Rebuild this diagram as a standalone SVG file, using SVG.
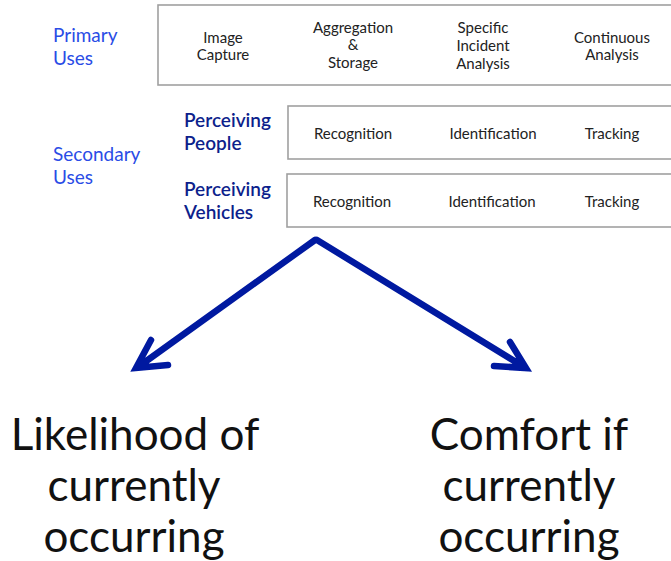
<svg xmlns="http://www.w3.org/2000/svg" width="671" height="561" viewBox="0 0 671 561">
<style>
.box{fill:#fff;stroke:#a0a0a0;stroke-width:1.6}
.cell{font-family:Lato,"Open Sans",sans-serif;font-size:15px;fill:#222;text-anchor:middle}
.lbl{font-family:Lato,"Open Sans",sans-serif;font-size:19px;fill:#2a4ce6}
.sub{font-family:Lato,"Open Sans",sans-serif;font-size:19px;fill:#0d1f8c;font-weight:600}
.big{font-family:Lato,"Open Sans",sans-serif;font-size:44px;fill:#111;text-anchor:middle}
.arr{fill:none;stroke:#0019a0;stroke-width:6.5;stroke-linecap:round;stroke-linejoin:miter}
</style>
<rect width="671" height="561" fill="#fff"/>
<g id="primary-label"><text class="lbl" x="53" y="42">Primary</text><text class="lbl" x="53" y="65">Uses</text></g>
<g id="secondary-label"><text class="lbl" x="53" y="161">Secondary</text><text class="lbl" x="53" y="184">Uses</text></g>
<g id="primary-row">
<rect class="box" x="158" y="5" width="520" height="80"/>
<text class="cell" x="223" y="43">Image</text><text class="cell" x="223" y="60">Capture</text>
<text class="cell" x="353" y="33">Aggregation</text><text class="cell" x="353" y="50">&amp;</text><text class="cell" x="353" y="68">Storage</text>
<text class="cell" x="483" y="33">Specific</text><text class="cell" x="483" y="51">Incident</text><text class="cell" x="483" y="69">Analysis</text>
<text class="cell" x="612" y="43">Continuous</text><text class="cell" x="612" y="60">Analysis</text>
</g>
<g id="people-row">
<text class="sub" x="184" y="127">Perceiving</text><text class="sub" x="184" y="150">People</text>
<rect class="box" x="288" y="106" width="390" height="53"/>
<text class="cell" x="353" y="139">Recognition</text><text class="cell" x="493" y="139">Identification</text><text class="cell" x="612" y="139">Tracking</text>
</g>
<g id="vehicles-row">
<text class="sub" x="184" y="196">Perceiving</text><text class="sub" x="184" y="219">Vehicles</text>
<rect class="box" x="287" y="174" width="391" height="53"/>
<text class="cell" x="352" y="207">Recognition</text><text class="cell" x="492" y="207">Identification</text><text class="cell" x="612" y="207">Tracking</text>
</g>
<g id="connectors">
<path class="arr" d="M315 240 L138 367 M151 340 L136 368 L168 365"/>
<path class="arr" d="M317 240 L524 367 M510 342 L526 368 L494 366"/>
</g>
<g id="likelihood"><text class="big" x="135" y="450">Likelihood of</text><text class="big" x="134" y="501">currently</text><text class="big" x="134" y="552">occurring</text></g>
<g id="comfort"><text class="big" x="529" y="450">Comfort if</text><text class="big" x="529" y="501">currently</text><text class="big" x="529" y="552">occurring</text></g>
</svg>
